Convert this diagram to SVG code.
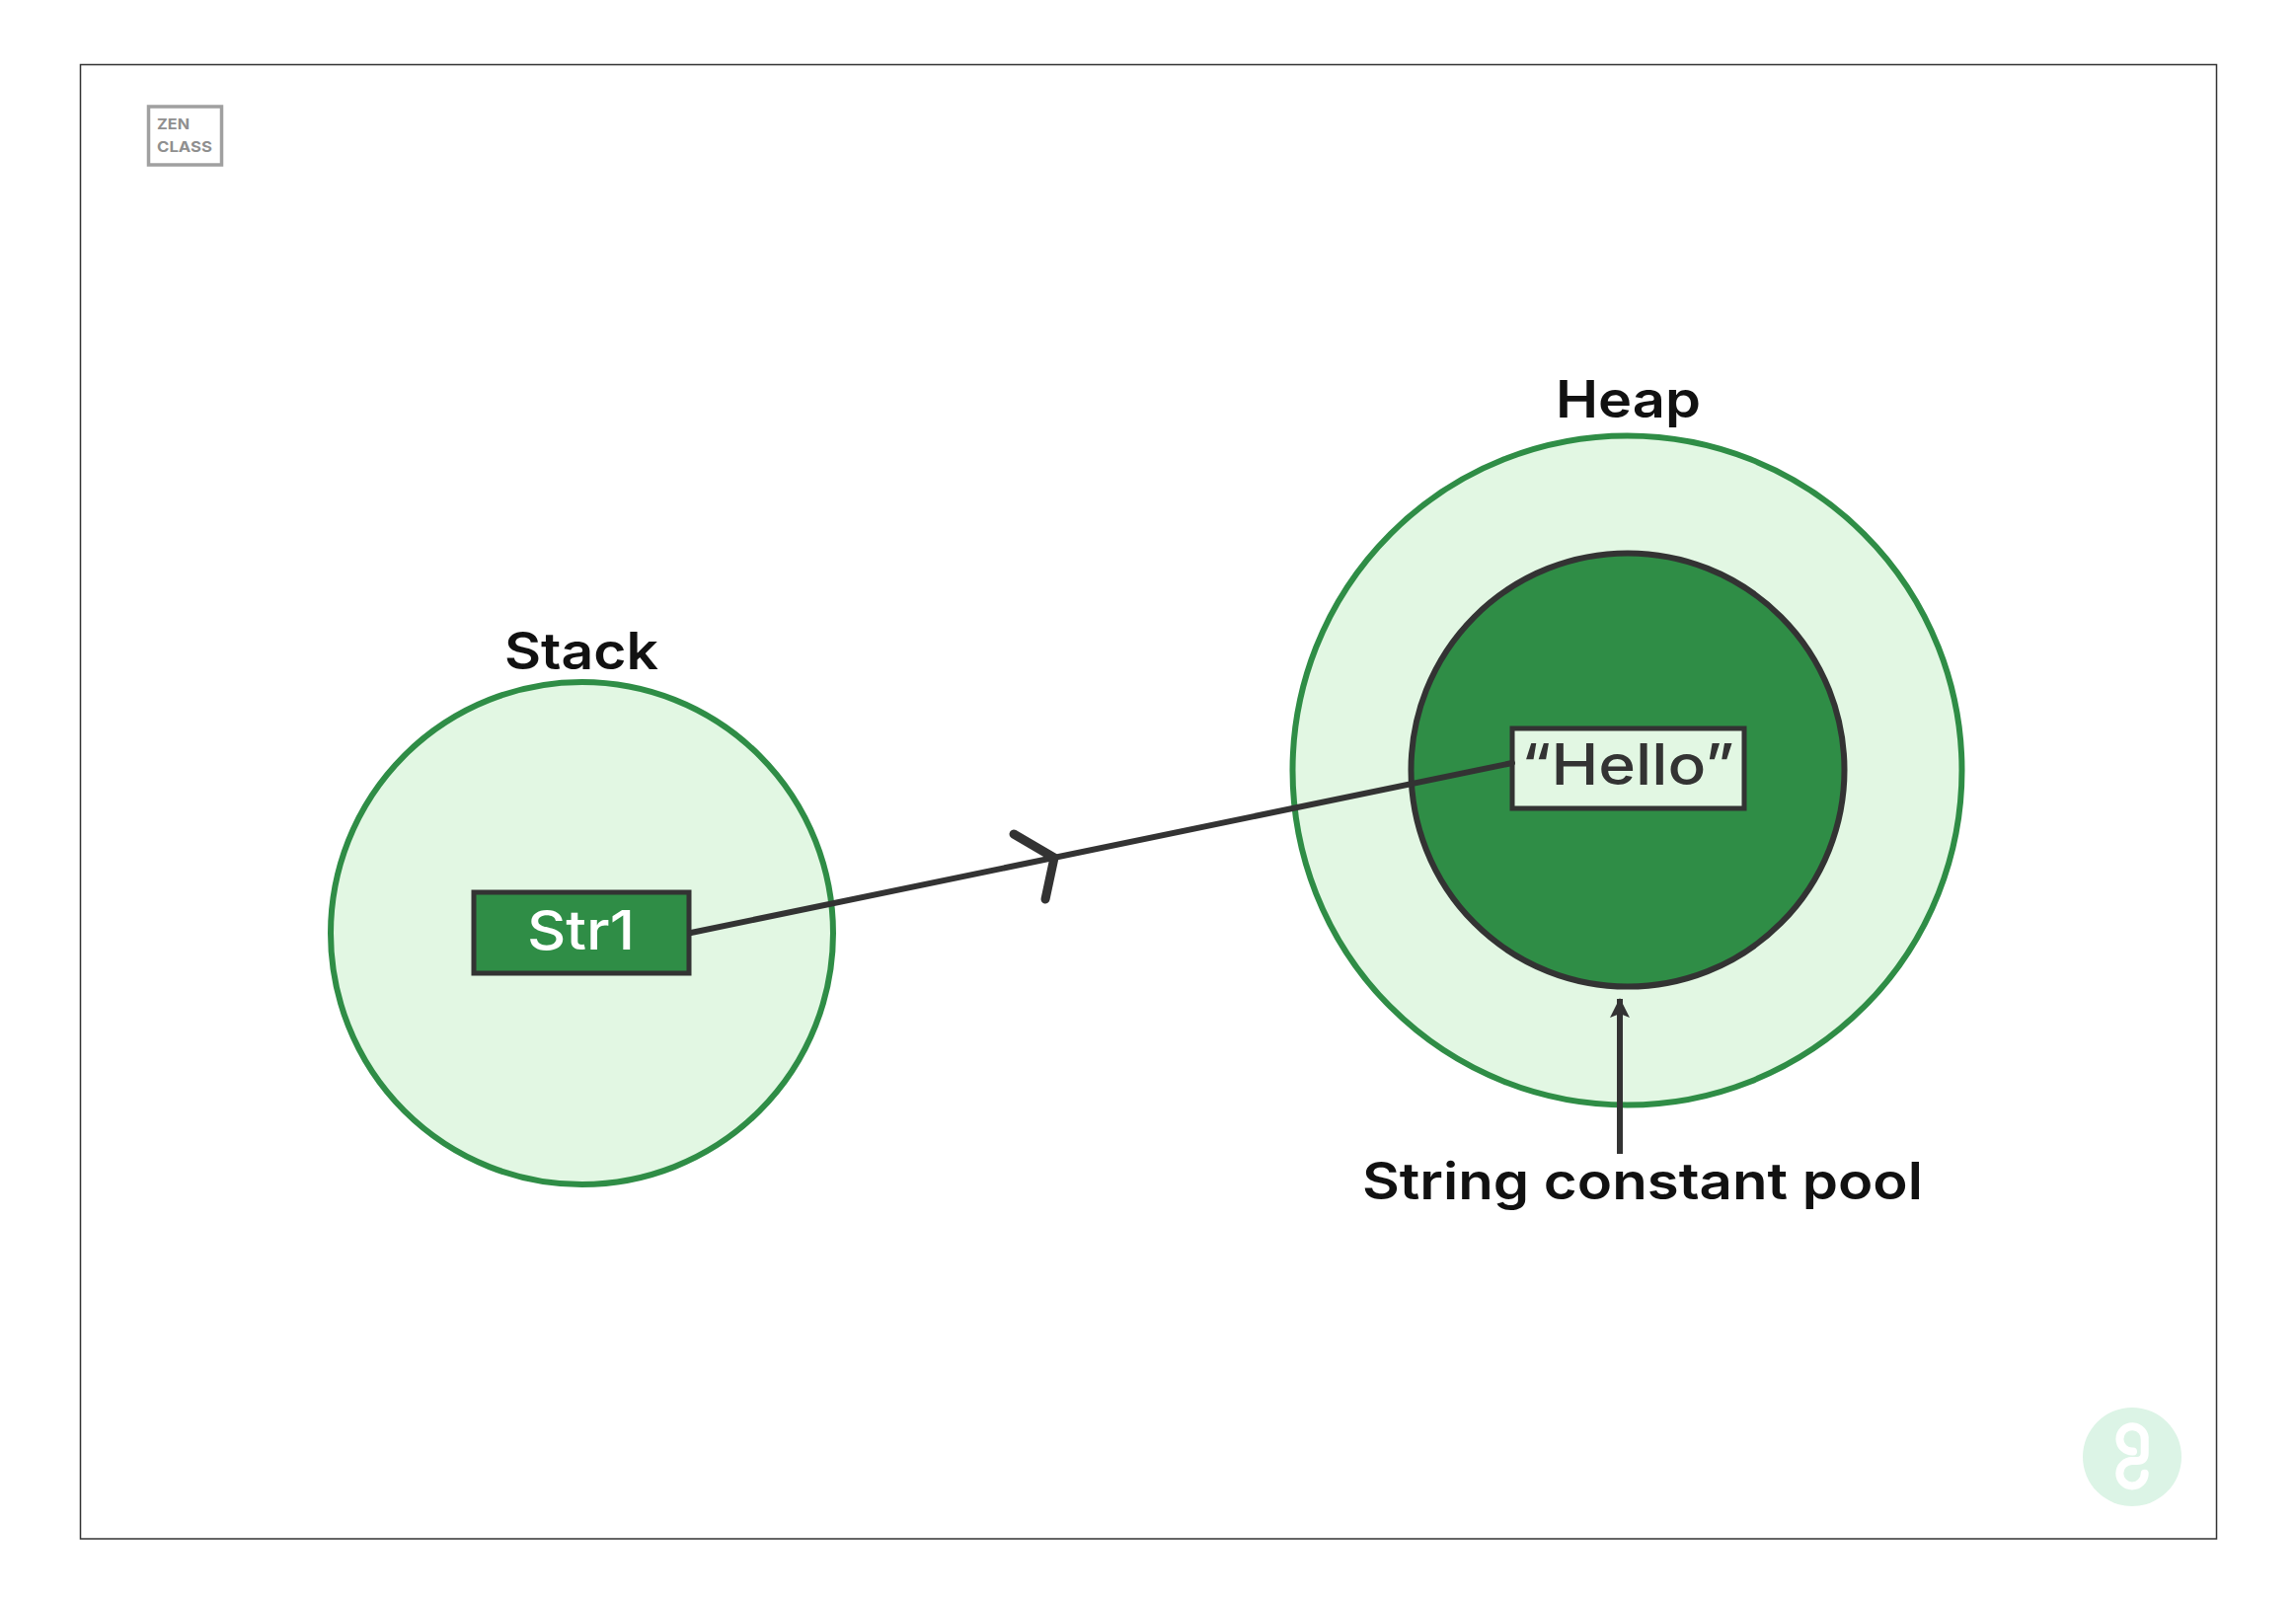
<svg xmlns="http://www.w3.org/2000/svg" width="2326" height="1621" viewBox="0 0 2326 1621">
<style>
text{font-family:"Inter","Liberation Sans",sans-serif;font-weight:600}
.light{fill:#e2f7e3;stroke:#2f8d46;stroke-width:6}
.dark{fill:#2f8d46;stroke:#333;stroke-width:6}
.label{fill:#111;font-size:52px}
.wire{fill:none;stroke:#333;stroke-width:6;stroke-linecap:round;stroke-linejoin:round}
</style>
<defs>
<marker id="tip" markerUnits="userSpaceOnUse" markerWidth="20" markerHeight="24" refX="19" refY="10" orient="auto">
<path d="M0 0L20 10L0 20L4 10Z" fill="#333"/>
</marker>
</defs>
<rect width="2326" height="1621" fill="#fff"/>
<rect id="frame" x="81.5" y="65.5" width="2164" height="1493.5" fill="none" stroke="#333" stroke-width="1.5"/>
<g id="logo">
<rect x="150.5" y="108" width="74" height="59" fill="#fff" stroke="#a0a0a0" stroke-width="3.5"/>
<text x="159" y="130.5" font-size="15" fill="#8f8f8f" style="font-weight:700" textLength="33" lengthAdjust="spacingAndGlyphs">ZEN</text>
<text x="159" y="153.5" font-size="15" fill="#8f8f8f" style="font-weight:700" textLength="56" lengthAdjust="spacingAndGlyphs">CLASS</text>
</g>
<g id="stack">
<circle class="light" cx="589.5" cy="945.5" r="254.5"/>
<text class="label" x="511" y="678" textLength="156" lengthAdjust="spacingAndGlyphs">Stack</text>
</g>
<g id="heap">
<circle class="light" cx="1648.5" cy="780.5" r="339"/>
<text class="label" x="1576" y="423" textLength="147" lengthAdjust="spacingAndGlyphs">Heap</text>
</g>
<g id="pool">
<circle class="dark" cx="1649" cy="780" r="219.5"/>
</g>
<g id="str1">
<rect class="dark" style="stroke-width:5" x="480" y="904" width="218" height="82"/>
<text x="534" y="962" font-size="55" fill="#fff" textLength="109" lengthAdjust="spacingAndGlyphs" style="font-weight:500">Str1</text>
</g>
<g id="hello">
<rect x="1532" y="738" width="235" height="81" fill="#e2f7e3" stroke="#333" stroke-width="5"/>
<text x="1541" y="795" font-size="57" fill="#333" textLength="216" lengthAdjust="spacingAndGlyphs" style="font-weight:500">“Hello”</text>
</g>
<g id="connectors">
<path class="wire" d="M700 945L1532 773"/>
<path class="wire" style="stroke-width:9" d="M1027 845L1068 869L1059 911"/>
<path class="wire" style="stroke-linecap:butt" d="M1641 1169V1012" marker-end="url(#tip)"/>
</g>
<g id="pool-label">
<text class="label" x="1380" y="1215" textLength="568" lengthAdjust="spacingAndGlyphs">String constant pool</text>
</g>
<g id="watermark">
<circle cx="2160" cy="1476" r="50" fill="#dcf4e6"/>
<path d="M2161 1470.5A12.7 12.7 0 1 1 2172.7 1459.3V1472Q2172.7 1480 2165 1480H2160A12.7 12.7 0 1 0 2172.7 1492.7" fill="none" stroke="#fff" stroke-width="8" stroke-linecap="round"/>
</g>
</svg>
